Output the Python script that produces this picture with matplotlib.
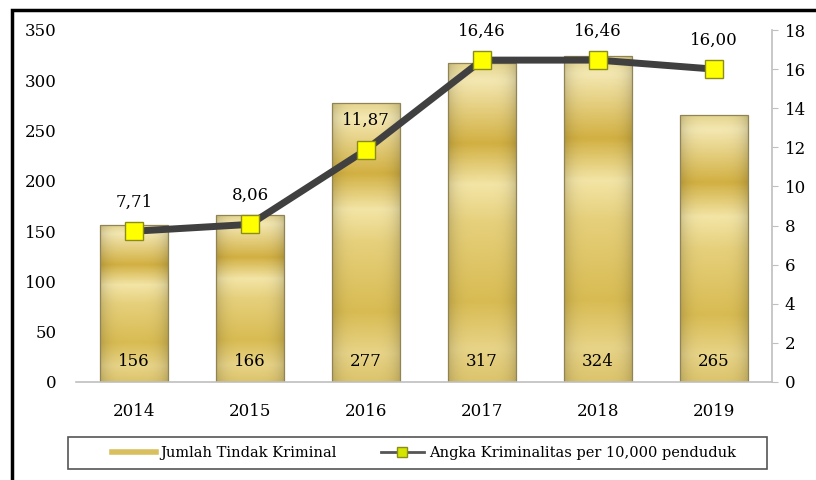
import numpy as np
import matplotlib
matplotlib.use("Agg")
import matplotlib.pyplot as plt
from matplotlib.patches import Rectangle
from matplotlib.lines import Line2D
from matplotlib.colors import LinearSegmentedColormap

years = ["2014", "2015", "2016", "2017", "2018", "2019"]
jumlah = [156, 166, 277, 317, 324, 265]
angka = [7.71, 8.06, 11.87, 16.46, 16.46, 16.00]
angka_lbl = ["7,71", "8,06", "11,87", "16,46", "16,46", "16,00"]

plt.rcParams['font.family'] = ['DejaVu Serif']

fig = plt.figure(figsize=(8.16, 4.8), dpi=100)
ax = fig.add_axes([76 / 816, 98 / 480, 696 / 816, 352 / 480])
ax2 = ax.twinx()

x = np.arange(len(years))
bars = ax.bar(x, jumlah, width=0.58, color='none', edgecolor='#8f8452',
              linewidth=0.9, zorder=2)

# gold gradient (bottom -> top) + slightly darker sides
gold = LinearSegmentedColormap.from_list("gold", [
    (0.0, "#dcc46c"), (0.1, "#e8d488"), (0.25, "#d8bb52"),
    (0.5, "#e6d07c"), (0.62, "#f3e5a6"), (0.75, "#d2b042"),
    (0.95, "#f4e8b2"), (1.0, "#e6d690")])
vv = np.linspace(0, 1, 200)[:, None]
hh = np.linspace(-1, 1, 60)[None, :]
shade = 1 - 0.15 * np.abs(hh) ** 4
for b in bars:
    x0, w, h = b.get_x(), b.get_width(), b.get_height()
    rgb = gold(vv * np.ones_like(hh))[..., :3] * shade[..., None]
    im = ax.imshow(rgb, extent=(x0, x0 + w, 0, h), origin='lower',
                   aspect='auto', zorder=1.5, interpolation='bilinear')
    im.set_clip_path(b)

for xi, v in zip(x, jumlah):
    ax.text(xi, 20, str(v), ha='center', va='center', fontsize=12, zorder=3)

ax.set_xlim(-0.5, len(years) - 0.5)
ax.set_ylim(0, 350)
ax.set_yticks(range(0, 351, 50))
ax.set_xticks(x)
ax.set_xticklabels(years, fontsize=12)
ax.tick_params(axis='x', length=0, pad=15)
ax.tick_params(axis='y', length=0, pad=14, labelsize=12)
for s in ['left', 'top', 'right']:
    ax.spines[s].set_visible(False)
ax.spines['bottom'].set_color('#bfbfbf')
ax.spines['bottom'].set_linewidth(1.2)

ax2.plot(x, angka, color='#404040', lw=5, marker='s', markersize=13,
         markerfacecolor='#ffff00', markeredgecolor='#8c8c1a',
         markeredgewidth=1, zorder=4)
for xi, v, lb in zip(x, angka, angka_lbl):
    ax2.annotate(lb, (xi, v), xytext=(0, 21), textcoords='offset points',
                 ha='center', va='center', fontsize=12)
ax2.set_ylim(0, 18)
ax2.set_yticks(range(0, 19, 2))
ax2.tick_params(axis='y', length=4, width=0.8, color='#bfbfbf', pad=5,
                labelsize=12)
for s in ['left', 'top', 'bottom']:
    ax2.spines[s].set_visible(False)
ax2.spines['right'].set_color('#bfbfbf')
ax2.spines['right'].set_linewidth(1.2)
ax.set_zorder(1)
ax2.set_zorder(2)
ax2.patch.set_visible(False)

# legend box and entries
fig.patches.append(Rectangle((68 / 816, 11 / 480), 699 / 816, 32 / 480,
                             transform=fig.transFigure, fill=False,
                             edgecolor='#555555', lw=1.2))
h1 = Line2D([], [], color='#d9bf5e', lw=4)
h2 = Line2D([], [], color='#555555', lw=2, marker='s', markersize=7,
            markerfacecolor='#d4e600', markeredgecolor='#8c8c1a')
fig.legend([h1, h2], ["Jumlah Tindak Kriminal",
                      "Angka Kriminalitas per 10,000 penduduk"],
           loc='center', bbox_to_anchor=(424 / 816, 27 / 480), ncol=2,
           frameon=False, fontsize=10.5, handlelength=3, columnspacing=3,
           handletextpad=0.3)

# outer frame
fig.patches.append(Rectangle((12 / 816, -0.1), 1.2, 1.1 - 10 / 480,
                             transform=fig.transFigure, fill=False,
                             edgecolor='black', lw=2.5))

fig.savefig("out.png", dpi=100)
